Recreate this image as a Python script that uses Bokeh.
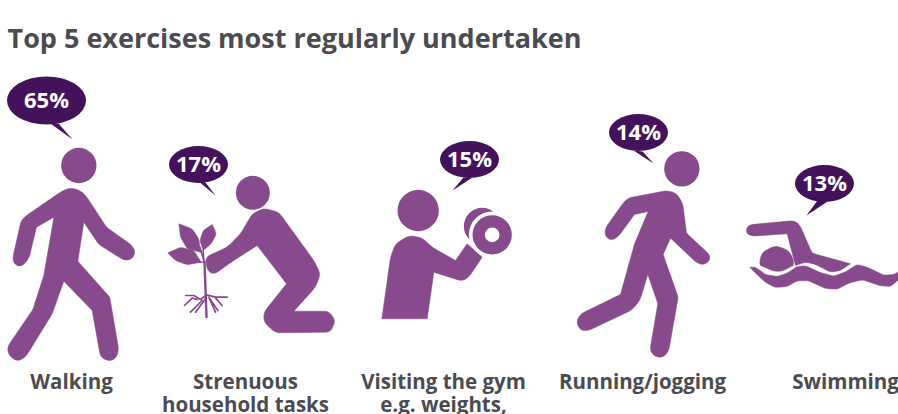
from bokeh.core.properties import value
from bokeh.embed import file_html
from bokeh.models import ColumnDataSource, Range1d
from bokeh.plotting import figure
from bokeh.resources import INLINE

# Survey results
activities = ["Walking", "Strenuous\nhousehold tasks", "Visiting the gym\ne.g. weights,",
              "Running/jogging", "Swimming"]
shares = [65, 17, 15, 14, 13]
title_text = "Top 5 exercises most regularly undertaken"

PURPLE = "#874a8d"
DARK = "#43125b"
GREY = "#4b4b50"
FONT = value("Open Sans")

p = figure(width=898, height=414, output_backend="svg", toolbar_location=None,
           x_range=Range1d(0, 898), y_range=Range1d(414, 0), min_border=0,
           outline_line_color=None, background_fill_color="white")
p.axis.visible = False
p.grid.visible = False


def to_page(points, ox, oy):
    """Icon outlines are drawn at 3 units per pixel, relative to an origin on the page."""
    return [(ox + q[0] / 3, oy + q[1] / 3) + tuple(q[2:]) for q in points]


def rounded(points, default_r=5.0, steps=6):
    """Round the corners of a closed outline; a third value overrides the corner radius."""
    n = len(points)
    xs, ys = [], []
    for i, q in enumerate(points):
        r = q[2] if len(q) > 2 else default_r
        a, b = points[i - 1], points[(i + 1) % n]
        if r <= 0:
            xs.append(q[0])
            ys.append(q[1])
            continue
        d1 = ((a[0] - q[0]) ** 2 + (a[1] - q[1]) ** 2) ** 0.5
        d2 = ((b[0] - q[0]) ** 2 + (b[1] - q[1]) ** 2) ** 0.5
        r1, r2 = min(r, d1 / 2), min(r, d2 / 2)
        s = (q[0] + (a[0] - q[0]) * r1 / d1, q[1] + (a[1] - q[1]) * r1 / d1)
        e = (q[0] + (b[0] - q[0]) * r2 / d2, q[1] + (b[1] - q[1]) * r2 / d2)
        for k in range(steps + 1):
            t = k / steps
            xs.append((1 - t) ** 2 * s[0] + 2 * t * (1 - t) * q[0] + t ** 2 * e[0])
            ys.append((1 - t) ** 2 * s[1] + 2 * t * (1 - t) * q[1] + t ** 2 * e[1])
    return xs, ys


def shape(points, ox, oy, color=PURPLE, r=5.0):
    xs, ys = rounded(to_page(points, ox, oy), r)
    p.patch(xs, ys, fill_color=color, line_color=color, line_width=0.5)


def disc(x, y, radius, ox, oy, color=PURPLE):
    p.circle([ox + x / 3], [oy + y / 3], radius=radius / 3, fill_color=color, line_color=None)


def stroke(points, ox, oy, width=1.6):
    q = to_page(points, ox, oy)
    p.line([c[0] for c in q], [c[1] for c in q], line_color=PURPLE, line_width=width,
           line_cap="round", line_join="round")


# Walking figure
ox, oy = 0, 70
disc(235, 285, 53, ox, oy)
shape([(187, 360), (210, 352), (240, 360), (258, 378), (318, 470, 3), (395, 525), (405, 545),
       (395, 565), (375, 570), (360, 563), (295, 522, 3), (250, 455, 0), (232, 572, 0),
       (328, 680, 2), (355, 840), (345, 865), (325, 872), (300, 860), (275, 720, 0), (190, 632, 0),
       (155, 730, 3), (75, 860), (50, 873), (25, 855), (20, 830), (97, 717, 2), (130, 615, 3),
       (160, 440, 0), (108, 470, 0), (85, 565), (62, 590), (40, 580), (37, 560), (62, 450), (78, 435, 3)],
      ox, oy)

# Kneeling figure planting a seedling
disc(757, 367, 51, ox, oy)
shape([(755, 430), (790, 413), (835, 425), (940, 570), (960, 610), (945, 650), (880, 722, 0),
       (985, 722), (1005, 750), (990, 785), (825, 787), (790, 755), (790, 725), (858, 640, 0),
       (770, 525, 0), (700, 570), (640, 612), (620, 600), (615, 560), (680, 530), (720, 490)],
      ox, oy)

# Seedling
ox, oy = 160, 215
shape([(22, 112, 0), (60, 95), (100, 105), (122, 140, 0), (80, 148), (45, 135)], ox, oy, r=3)
shape([(55, 25, 0), (95, 40), (115, 70), (120, 110, 0), (80, 100), (60, 65)], ox, oy, r=3)
shape([(155, 27, 0), (168, 55), (152, 85), (128, 105, 0), (118, 75), (128, 45)], ox, oy, r=3)
stroke([(132, 140), (138, 305)], ox, oy, 2.4)
stroke([(118, 95), (132, 140)], ox, oy, 1.8)
stroke([(128, 105), (130, 140)], ox, oy, 1.6)
stroke([(80, 140), (130, 140)], ox, oy, 1.4)
for root in ([(76, 240), (100, 240), (120, 252), (138, 238), (165, 245), (200, 245)],
             [(72, 270), (95, 248), (110, 252)],
             [(90, 290), (125, 255)],
             [(105, 290), (135, 250)],
             [(172, 285), (148, 250)],
             [(185, 270), (165, 247)],
             [(165, 290), (145, 245)]):
    stroke(root, ox, oy, 1.7)

# Figure lifting a dumbbell
ox, oy = 340, 100
disc(233, 330, 62, ox, oy)
shape([(124, 655, 0), (150, 470), (165, 430), (205, 405), (245, 412), (275, 440), (345, 480, 0),
       (380, 430, 0), (425, 470, 0), (385, 530), (365, 542), (280, 515, 0), (260, 655, 0)], ox, oy)
disc(425, 377, 55, ox, oy)
disc(455, 403, 70, ox, oy, "white")
disc(455, 403, 59, ox, oy)
disc(455, 403, 22, ox, oy, "white")

# Running figure
ox, oy = 560, 140
disc(364, 85, 53, ox, oy)
shape([(205, 172, 3), (320, 150), (350, 160), (367, 190), (378, 278, 2), (445, 340), (450, 355),
       (435, 372), (412, 370), (330, 293, 0), (308, 342, 0), (353, 470, 2), (325, 630), (310, 650),
       (285, 650), (268, 630), (292, 490, 0), (262, 402, 0), (238, 480), (215, 508), (85, 570),
       (60, 570), (47, 545), (60, 520), (180, 462, 2), (222, 310, 3), (263, 213, 0), (222, 222, 0),
       (172, 290), (150, 300), (133, 285), (135, 262), (190, 185, 3)], ox, oy)

# Swimmer and water
ox, oy = 740, 210
shape([(17, 58), (25, 43), (160, 30), (177, 42), (215, 128, 3), (330, 160, 0), (300, 180, 3),
       (270, 185, 3), (225, 162, 3), (195, 155, 3), (165, 165, 0), (140, 70, 0), (35, 77), (20, 70)],
      ox, oy)
shape([(57, 155), (65, 125), (105, 105), (145, 120), (160, 150), (158, 165, 0), (125, 182, 3),
       (100, 182, 3), (60, 165, 0)], ox, oy)
shape([(28, 170, 0), (45, 170), (75, 192), (110, 198), (140, 188), (170, 168), (195, 166), (240, 186),
       (280, 197), (315, 184), (350, 162), (380, 170), (430, 194), (460, 192), (474, 184, 0),
       (474, 208, 0), (450, 228), (420, 226), (365, 208), (330, 216), (290, 236), (255, 234),
       (205, 211), (170, 211), (140, 228), (105, 231), (75, 216), (45, 188)], ox, oy, r=2.5)

# Speech bubbles carrying the percentages
bubble_centres = [(46, 100), (198, 164), (469, 159), (638, 132), (824, 183)]
bubble_sizes = [(79, 48), (59, 37), (59, 37), (59, 37), (59, 37)]
bubble_tails = [[(50, 123), (72, 139), (58, 123)],
                [(197, 180), (215, 195), (205, 182)],
                [(463, 177), (452, 190), (472, 177)],
                [(633, 150), (653, 163), (642, 151)],
                [(817, 200), (806, 215), (827, 201)]]
bubble_source = ColumnDataSource(dict(
    x=[c[0] for c in bubble_centres], y=[c[1] for c in bubble_centres],
    w=[s[0] for s in bubble_sizes], h=[s[1] for s in bubble_sizes],
    label=[f"{v}%" for v in shares]))
p.ellipse("x", "y", width="w", height="h", source=bubble_source, fill_color=DARK, line_color=None)
for tail in bubble_tails:
    p.patch([t[0] for t in tail], [t[1] for t in tail], fill_color=DARK, line_color=None)
p.text("x", "y", text="label", source=bubble_source, text_color="white", text_font=FONT,
       text_font_style="bold", text_font_size="22px", text_align="center", text_baseline="middle",
       y_offset=-1.5)

# Title and captions
p.text([7], [37], text=[title_text], text_color=GREY, text_font=FONT, text_font_style="bold",
       text_font_size="27px", text_align="left", text_baseline="middle")

caption_centres = [71, 245, 443, 642, 845]
line_y = [380, 403]
for cx, caption in zip(caption_centres, activities):
    for ly, part in zip(line_y, caption.split("\n")):
        p.text([cx], [ly], text=[part], text_color=GREY, text_font=FONT, text_font_style="bold",
               text_font_size="20.5px", text_align="center", text_baseline="middle")

open("out.html", "w").write(file_html(p, INLINE))
